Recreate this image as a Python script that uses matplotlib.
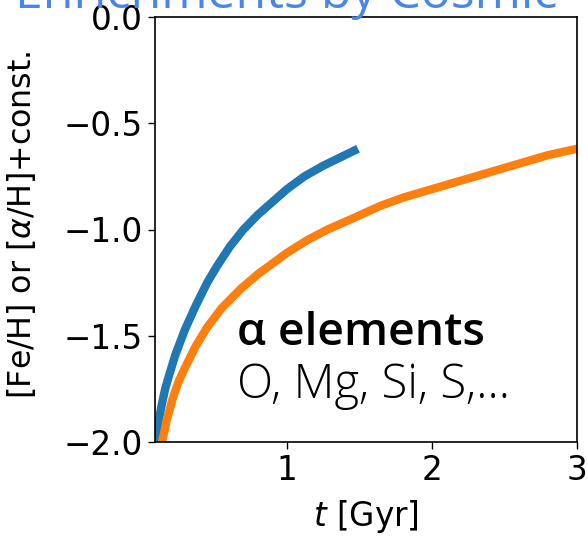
import numpy as np
import matplotlib
matplotlib.use("Agg")
import matplotlib.pyplot as plt

# values
t_fe = [0.09, 0.10, 0.115, 0.135, 0.16, 0.19, 0.23, 0.297, 0.37, 0.45, 0.52,
        0.607, 0.7, 0.8, 0.9, 1.0, 1.12, 1.25, 1.37, 1.49]
y_fe = [-2.0, -1.96, -1.90, -1.83, -1.75, -1.68, -1.59, -1.47, -1.36, -1.25, -1.17,
        -1.08, -1.00, -0.93, -0.87, -0.81, -0.75, -0.70, -0.66, -0.62]

t_alpha = [0.138, 0.155, 0.17, 0.19, 0.21, 0.25, 0.297, 0.37, 0.45, 0.55, 0.68,
           0.8, 0.9, 1.0, 1.14, 1.28, 1.43, 1.64, 1.8, 2.0, 2.2, 2.35, 2.5,
           2.65, 2.8, 3.0]
y_alpha = [-2.0, -1.95, -1.90, -1.85, -1.80, -1.72, -1.65, -1.55, -1.46, -1.37, -1.28,
           -1.21, -1.16, -1.11, -1.05, -1.00, -0.955, -0.89, -0.85, -0.81, -0.77, -0.74, -0.71,
           -0.68, -0.65, -0.62]

xticks = [1, 2, 3]
yticks = [0.0, -0.5, -1.0, -1.5, -2.0]

plt.rcParams['font.family'] = ['DejaVu Sans']

fig = plt.figure(figsize=(5.88, 5.4), dpi=100)
ax = fig.add_axes([0.2636, 0.1815, 0.7177, 0.787])

ax.plot(t_fe, y_fe, color='#1f77b4', lw=6, solid_capstyle='butt')
ax.plot(t_alpha, y_alpha, color='#ff7f0e', lw=6, solid_capstyle='butt')

ax.set_xlim(0.09, 3.0)
ax.set_ylim(-2.0, 0.0)
ax.set_xticks(xticks)
ax.set_yticks(yticks)
ax.tick_params(labelsize=23.5, length=5, width=1)
for s in ax.spines.values():
    s.set_linewidth(1.2)

ax.set_xlabel(r'$t$ [Gyr]', fontsize=23.5)
ax.set_ylabel(r'[Fe/H] or [$\alpha$/H]+const.', fontsize=22.8)
ax.yaxis.set_label_coords(-0.277, 0.51)
ax.xaxis.set_label_coords(0.5, -0.132)

# annotation in the slide font
fig.text(237 / 588, 1 - 345 / 540, 'α elements', fontsize=33.3, family='Open Sans',
         weight=600, color='black', va='baseline', ha='left')
fig.text(237 / 588, 1 - 398 / 540, 'O, Mg, Si, S,...', fontsize=34, family='Open Sans',
         weight=300, color='black', va='baseline', ha='left')

# slide title, mostly cut off at the top
fig.text(15 / 588, 1 - 8 / 540, 'Enrichments by Cosmic', fontsize=36, family='Open Sans',
         color='#4a86e8', va='baseline', ha='left')

fig.savefig('out.png', dpi=100)
plt.close()
